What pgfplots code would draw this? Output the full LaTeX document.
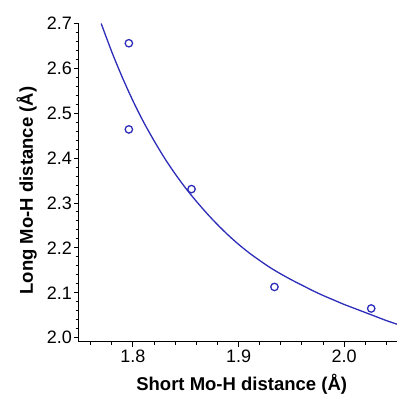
\documentclass[border=0pt]{standalone}
\usepackage{pgfplots}
\pgfplotsset{compat=1.18}
\usepackage{fontspec}
\setmainfont{Liberation Sans}
\definecolor{fitblue}{RGB}{45,45,185}
\begin{document}
\begin{tikzpicture}[x=1pt,y=1pt]
\useasboundingbox (0,0) rectangle (397,394);
\begin{axis}[
  at={(79pt,52.3pt)}, anchor=south west,
  scale only axis, width=318pt, height=318.2pt,
  xmin=1.749, xmax=2.050, ymin=1.991, ymax=2.7,
  axis lines=left,
  axis line style={black, line width=1pt, -},
  xtick={1.8,1.9,2.0}, ytick={2.0,2.1,2.2,2.3,2.4,2.5,2.6,2.7},
  minor xtick={1.76,1.78,1.82,1.84,1.86,1.88,1.92,1.94,1.96,1.98,2.02,2.04},
  minor ytick={2.02,2.04,2.06,2.08,2.12,2.14,2.16,2.18,2.22,2.24,2.26,2.28,2.32,2.34,2.36,2.38,2.42,2.44,2.46,2.48,2.52,2.54,2.56,2.58,2.62,2.64,2.66,2.68},
  tick align=outside,
  major tick length=5pt, minor tick length=3pt,
  every tick/.style={black, line width=1pt},
  /pgf/number format/assume math mode=true,
  xticklabel style={font=\fontsize{18}{20}\selectfont, /pgf/number format/fixed, /pgf/number format/fixed zerofill, /pgf/number format/precision=1},
  yticklabel style={font=\fontsize{18}{20}\selectfont, inner sep=2pt, /pgf/number format/fixed, /pgf/number format/fixed zerofill, /pgf/number format/precision=1},
  scaled ticks=false,
  every axis x label/.style={at={(axis description cs:0.5116,-0.154)}, anchor=base},
  every axis y label/.style={at={(axis description cs:-0.1447,0.475)}, anchor=base, rotate=90},
  label style={font=\fontsize{18.5}{21}\selectfont\bfseries},
  xlabel={Short Mo-H distance (Å)},
  ylabel={Long Mo-H distance (Å)},
]
\addplot[fitblue, line width=1.3pt, smooth, no markers] coordinates {
(1.770,2.700) (1.780,2.637) (1.790,2.580) (1.800,2.528) (1.810,2.481)
(1.820,2.439) (1.830,2.400) (1.840,2.365) (1.850,2.333) (1.860,2.304)
(1.870,2.277) (1.880,2.252) (1.890,2.229) (1.900,2.208) (1.910,2.189)
(1.920,2.172) (1.930,2.156) (1.940,2.142) (1.950,2.129) (1.960,2.117)
(1.970,2.105) (1.980,2.094) (1.990,2.084) (2.000,2.074) (2.010,2.065)
(2.020,2.056) (2.030,2.047) (2.040,2.038) (2.050,2.030)
};
\addplot[fitblue, only marks, mark=o, mark size=3.7pt, mark options={line width=1.3pt}] coordinates {
(1.7962,2.656) (1.7962,2.464) (1.8555,2.331) (1.9340,2.113) (2.0256,2.065)
};
\end{axis}
\end{tikzpicture}
\end{document}
